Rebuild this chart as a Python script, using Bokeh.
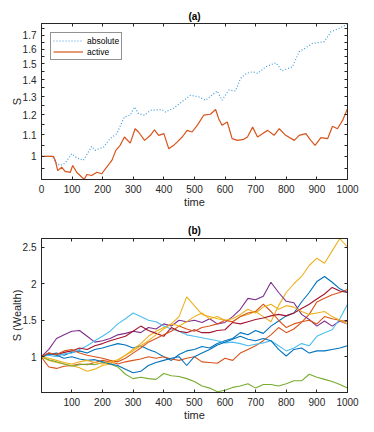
from bokeh.plotting import figure
from bokeh.layouts import column
from bokeh.models import Range1d, FixedTicker, LinearAxis, LogAxis, Legend, LegendItem, CustomJSTickFormatter
from bokeh.embed import file_html
from bokeh.resources import INLINE

# ---------------- panel (a) data ----------------
abs_t = [0, 35, 45, 61, 77, 99, 115, 137, 164, 175, 203, 224, 246, 271, 290, 304, 317, 337,
         356, 394, 405, 432, 465, 487, 514, 536, 574, 590, 612, 634, 650, 670, 690, 706,
         733, 766, 786, 820, 842, 886, 924, 946, 973, 1000]
abs_s = [1.0, 1.0, 0.975, 0.961, 0.971, 1.012, 0.994, 0.983, 1.045, 1.027, 1.042, 1.081, 1.105,
         1.189, 1.198, 1.242, 1.206, 1.198, 1.224, 1.228, 1.215, 1.236, 1.279, 1.307, 1.298,
         1.279, 1.332, 1.279, 1.337, 1.332, 1.407, 1.439, 1.449, 1.439, 1.481, 1.507, 1.455,
         1.481, 1.581, 1.641, 1.653, 1.727, 1.752, 1.786]

act_t = [0, 39, 45, 53, 66, 77, 94, 102, 115, 132, 140, 148, 164, 181, 197, 213, 230, 243, 257,
         271, 290, 306, 317, 337, 356, 369, 383, 400, 416, 432, 443, 460, 476, 492, 509, 530,
         552, 569, 579, 590, 607, 623, 640, 661, 673, 690, 706, 722, 739, 760, 777, 798, 826,
         842, 864, 880, 894, 913, 935, 951, 967, 984, 1000]
act_s = [1.0, 1.0, 0.983, 0.94, 0.954, 0.937, 0.933, 0.961, 0.933, 0.913, 0.905, 0.924, 0.92,
         0.933, 0.927, 0.954, 0.983, 1.027, 1.05, 1.089, 1.06, 1.129, 1.113, 1.073, 1.097, 1.124,
         1.097, 1.105, 1.034, 1.05, 1.065, 1.089, 1.121, 1.113, 1.146, 1.198, 1.203, 1.228, 1.18,
         1.146, 1.163, 1.081, 1.073, 1.078, 1.089, 1.137, 1.089, 1.105, 1.121, 1.097, 1.129,
         1.097, 1.073, 1.097, 1.105, 1.073, 1.05, 1.086, 1.081, 1.141, 1.129, 1.171, 1.233]

a_xticks = [0, 100, 200, 300, 400, 500, 600, 700, 800, 900, 1000]
a_yticks = [1.0, 1.1, 1.2, 1.3, 1.4, 1.5, 1.6, 1.7]
a_yminor = [0.95, 1.05, 1.15, 1.25, 1.35, 1.45, 1.55, 1.65, 1.75]

# ---------------- panel (b) data ----------------
wealth_t = [0, 25, 50, 75, 100, 125, 150, 175, 200, 225, 250, 275, 300, 325, 350, 375, 400,
            425, 450, 475, 500, 525, 550, 575, 600, 625, 650, 675, 700, 725, 750, 775, 800,
            825, 850, 875, 900, 925, 950, 975, 1000]
blue_a = [1.00, 1.03, 1.05, 1.02, 1.06, 1.08, 1.05, 1.10, 1.12, 1.15, 1.18, 1.16, 1.12, 1.15,
          1.10, 1.06, 1.00, 0.95, 1.03, 1.08, 1.10, 1.14, 1.12, 1.18, 1.22, 1.25, 1.33, 1.30,
          1.36, 1.32, 1.42, 1.49, 1.56, 1.60, 1.75, 1.88, 2.03, 2.10, 2.02, 1.93, 1.88]
orange_a = [1.00, 0.86, 0.84, 0.87, 0.88, 0.90, 0.89, 0.92, 0.95, 0.93, 0.90, 0.93, 0.95, 0.97,
            1.00, 0.98, 1.00, 0.97, 0.95, 0.98, 1.00, 0.93, 0.92, 0.91, 0.98, 0.95, 1.05, 1.10,
            1.15, 1.22, 1.30, 1.40, 1.33, 1.38, 1.47, 1.58, 1.75, 1.80, 1.85, 1.88, 1.92]
yellow_a = [1.00, 0.95, 0.92, 0.90, 0.88, 0.85, 0.80, 0.83, 0.88, 0.90, 0.95, 1.02, 1.10, 1.18,
            1.28, 1.35, 1.40, 1.45, 1.55, 1.82, 1.70, 1.58, 1.55, 1.52, 1.50, 1.48, 1.55, 1.58,
            1.62, 1.55, 1.48, 1.70, 1.88, 2.00, 2.10, 2.25, 2.35, 2.28, 2.45, 2.62, 2.50]
purple = [1.00, 1.10, 1.25, 1.30, 1.35, 1.36, 1.28, 1.20, 1.22, 1.25, 1.30, 1.32, 1.35, 1.33,
          1.40, 1.38, 1.45, 1.42, 1.50, 1.48, 1.50, 1.47, 1.52, 1.45, 1.47, 1.55, 1.65, 1.80,
          1.78, 1.83, 2.02, 1.88, 1.76, 1.74, 1.58, 1.51, 1.42, 1.49, 1.42, 1.49, 1.45]
green = [1.00, 0.96, 0.93, 0.90, 0.87, 0.89, 0.90, 0.89, 0.92, 0.90, 0.86, 0.76, 0.70, 0.72,
         0.70, 0.69, 0.77, 0.74, 0.73, 0.70, 0.66, 0.60, 0.57, 0.52, 0.54, 0.58, 0.60, 0.63,
         0.57, 0.62, 0.62, 0.60, 0.63, 0.67, 0.67, 0.76, 0.72, 0.69, 0.66, 0.62, 0.57]
light_blue = [1.00, 1.02, 1.00, 1.04, 1.05, 1.10, 1.15, 1.22, 1.28, 1.35, 1.45, 1.52, 1.60, 1.55,
              1.50, 1.48, 1.42, 1.38, 1.35, 1.30, 1.28, 1.26, 1.24, 1.22, 1.19, 1.20, 1.18, 1.15,
              1.17, 1.19, 1.22, 1.15, 1.08, 1.12, 1.18, 1.15, 1.28, 1.33, 1.37, 1.52, 1.72]
dark_red = [1.00, 1.05, 1.03, 1.06, 1.08, 1.12, 1.10, 1.15, 1.18, 1.22, 1.25, 1.28, 1.35, 1.42,
            1.36, 1.32, 1.28, 1.40, 1.35, 1.33, 1.37, 1.33, 1.33, 1.36, 1.37, 1.47, 1.45, 1.48,
            1.51, 1.53, 1.56, 1.58, 1.56, 1.60, 1.66, 1.72, 1.79, 1.86, 1.95, 1.90, 1.88]
blue_b = [1.00, 1.04, 1.02, 0.98, 1.00, 0.97, 0.95, 0.96, 0.93, 0.90, 0.88, 0.83, 0.78, 0.80,
          0.88, 0.92, 0.95, 0.98, 1.00, 0.88, 1.00, 1.05, 1.10, 1.16, 1.20, 1.24, 1.28, 1.24,
          1.22, 1.25, 1.22, 1.10, 1.01, 1.10, 1.12, 1.05, 1.08, 1.08, 1.10, 1.12, 1.15]
orange_b = [1.00, 1.05, 1.03, 1.08, 1.10, 1.05, 1.02, 1.00, 0.98, 0.95, 0.93, 0.98, 1.05, 1.12,
            1.20, 1.25, 1.30, 1.35, 1.42, 1.38, 1.35, 1.40, 1.42, 1.45, 1.50, 1.48, 1.55, 1.60,
            1.62, 1.72, 1.62, 1.50, 1.40, 1.45, 1.48, 1.50, 1.45, 1.55, 1.52, 1.50, 1.48]
yellow_b = [1.00, 0.98, 0.95, 0.92, 0.90, 0.93, 0.95, 0.92, 0.90, 0.93, 0.96, 1.02, 1.08, 1.15,
            1.22, 1.30, 1.38, 1.45, 1.42, 1.48, 1.55, 1.60, 1.52, 1.55, 1.50, 1.52, 1.58, 1.65,
            1.60, 1.68, 1.72, 1.65, 1.70, 1.68, 1.62, 1.58, 1.60, 1.62, 1.55, 1.50, 1.45]

b_series = [blue_a, orange_a, yellow_a, purple, green, light_blue, dark_red, blue_b, orange_b, yellow_b]
b_colors = ["#0072BD", "#D95319", "#EDB120", "#7E2F8E", "#77AC30", "#4DBEEE", "#A2142F",
            "#0072BD", "#D95319", "#EDB120"]
b_xticks = [100, 200, 300, 400, 500, 600, 700, 800, 900, 1000]
b_yticks = [1.0, 1.5, 2.0, 2.5]

AX = "#262626"
FONT = "Liberation Sans"
fmt_code = "var s = tick.toFixed(1); if (s.endsWith('.0')) { s = s.slice(0, -2); } return s;"


def style_axis(ax, label_visible=True, label_standoff=3):
    ax.axis_line_color = AX
    ax.major_tick_line_color = AX
    ax.minor_tick_line_color = AX
    ax.major_tick_in = 3
    ax.major_tick_out = 0
    ax.minor_tick_in = 3
    ax.minor_tick_out = 0
    ax.major_label_text_font = FONT
    ax.major_label_text_font_size = "10px"
    ax.major_label_text_color = AX if label_visible else None
    ax.major_label_standoff = 5
    ax.axis_label_text_font = FONT
    ax.axis_label_text_font_size = "11px"
    ax.axis_label_text_font_style = "normal"
    ax.axis_label_text_color = AX
    ax.axis_label_standoff = label_standoff


def base_fig(title, height, yr, xr, ylog, top_b, bot_b, title_standoff):
    p = figure(width=370, height=height, x_range=xr, y_range=yr,
               y_axis_type="log" if ylog else "linear",
               output_backend="svg", toolbar_location=None,
               min_border_left=41, min_border_right=23,
               min_border_top=top_b, min_border_bottom=bot_b, title=title)
    p.title.align = "center"
    p.title.text_font = FONT
    p.title.text_font_size = "10px"
    p.title.text_font_style = "bold"
    p.title.text_color = "black"
    p.title.offset = 0
    p.title.standoff = title_standoff
    p.xgrid.visible = False
    p.ygrid.visible = False
    p.outline_line_color = AX
    p.outline_line_alpha = 1
    p.background_fill_color = "white"
    p.border_fill_color = "white"
    return p


def add_box(p, xticks, yticks, yminor, ylog):
    top = LinearAxis(ticker=FixedTicker(ticks=xticks, minor_ticks=[]))
    right = (LogAxis if ylog else LinearAxis)(ticker=FixedTicker(ticks=yticks, minor_ticks=yminor))
    for ax in (top, right):
        style_axis(ax, label_visible=False)
        ax.major_label_text_font_size = "0px"
        ax.major_label_standoff = 0
    p.add_layout(top, "above")
    p.add_layout(right, "right")


# ---------------- figure (a) ----------------
pa = base_fig("(a)", 218, Range1d(0.904, 1.79), Range1d(0, 1000), True, 23, 39, 3)
r_abs = pa.line(abs_t, abs_s, line_color="#3E9BDA", line_width=1.2, line_dash="1 2")
r_act = pa.line(act_t, act_s, line_color="#D95319", line_width=1.2)
pa.xaxis.ticker = FixedTicker(ticks=a_xticks, minor_ticks=[])
pa.yaxis.ticker = FixedTicker(ticks=a_yticks, minor_ticks=a_yminor)
pa.yaxis.formatter = CustomJSTickFormatter(code=fmt_code)
pa.xaxis.axis_label = "time"
pa.yaxis.axis_label = "S"
for ax in pa.xaxis:
    style_axis(ax, label_standoff=0)
for ax in pa.yaxis:
    style_axis(ax, label_standoff=-3)
add_box(pa, a_xticks, a_yticks, a_yminor, True)

leg = Legend(items=[LegendItem(label="absolute", renderers=[r_abs]),
                    LegendItem(label="active", renderers=[r_act])],
             location="top_left")
leg.margin = 9
leg.padding = 2
leg.spacing = 0
leg.glyph_width = 30
leg.glyph_height = 11
leg.label_height = 11
leg.label_standoff = 4
leg.label_text_font = FONT
leg.label_text_font_size = "8.5px"
leg.label_text_color = "black"
leg.border_line_color = AX
leg.border_line_width = 1
leg.background_fill_color = "white"
leg.background_fill_alpha = 1
pa.add_layout(leg)

# ---------------- figure (b) ----------------
pb = base_fig("(b)", 214, Range1d(0.51, 2.62), Range1d(1, 1000), False, 20, 40, 5)
for ser, col in zip(b_series, b_colors):
    pb.line(wealth_t, ser, line_color=col, line_width=1.1)
pb.xaxis.ticker = FixedTicker(ticks=b_xticks, minor_ticks=[])
pb.yaxis.ticker = FixedTicker(ticks=b_yticks, minor_ticks=[])
pb.yaxis.formatter = CustomJSTickFormatter(code=fmt_code)
pb.xaxis.axis_label = "time"
pb.yaxis.axis_label = "S (Wealth)"
for ax in pb.xaxis:
    style_axis(ax, label_standoff=0)
for ax in pb.yaxis:
    style_axis(ax, label_standoff=-3)
add_box(pb, b_xticks, b_yticks, [], False)

layout = column(pa, pb, spacing=0)
open("out.html", "w").write(file_html(layout, INLINE))
